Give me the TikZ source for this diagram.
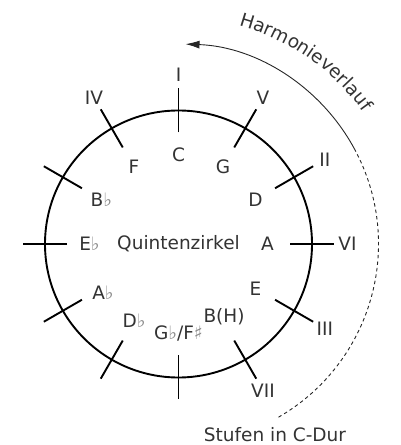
\documentclass[tikz,border=0pt]{standalone}
\usepackage{fontspec}
\setmainfont{DejaVu Sans}
\usetikzlibrary{arrows.meta,decorations.text,calc}
\newcommand{\fl}{{\color{black!45}♭}}
\newcommand{\sh}{{\color{black!45}♯}}
\begin{document}
\begin{tikzpicture}[x=1pt,y=1pt,
  lbl/.style={font=\fontsize{18.5}{20}\selectfont, text=black!80, inner sep=0pt},
  tickline/.style={line width=1.9pt, black},
  ring/.style={line width=1.9pt, black},
  harm/.style={line width=0.9pt, black!85}]
\useasboundingbox (0,0) rectangle (400,445);
\coordinate (O) at (178.5,201);
\draw[ring] (O) circle[radius=133.5];
% ticks
\foreach \a in {0,30,...,330}{
  \coordinate (ti\a) at ($(O)+(\a:111.5)$);
  \coordinate (to\a) at ($(O)+(\a:155.5)$);
  \draw[tickline] (ti\a) -- (to\a);
}
% note names
\node[lbl] (nC) at ($(O)+(90:89)$) {C};
\node[lbl] (nG) at ($(O)+(60:89)$) {G};
\node[lbl] (nD) at ($(O)+(30:89)$) {D};
\node[lbl] (nA) at ($(O)+(0:89)$) {A};
\node[lbl] (nE) at ($(O)+(-30:89)$) {E};
\node[lbl] (nB) at ($(O)+(-58:86)$) {B(H)};
\node[lbl] (nGb) at ($(O)+(-90:89)$) {G\fl/F\sh};
\node[lbl] (nDb) at ($(O)+(-120:89)$) {D\fl};
\node[lbl] (nAb) at ($(O)+(-147:90)$) {A\fl};
\node[lbl] (nEb) at ($(O)+(180:89)$) {E\fl};
\node[lbl] (nBb) at ($(O)+(150:89)$) {B\fl};
\node[lbl] (nF) at ($(O)+(120:89)$) {F};
\node[lbl] (qz) at (O) {Quintenzirkel};
% roman numerals
\node[lbl] (rI) at ($(O)+(90:169)$) {I};
\node[lbl] (rV) at ($(O)+(60:169)$) {V};
\node[lbl] (rII) at ($(O)+(30:169)$) {II};
\node[lbl] (rVI) at ($(O)+(0:169)$) {VI};
\node[lbl] (rIII) at ($(O)+(-30:169)$) {III};
\node[lbl] (rVII) at ($(O)+(-60:169)$) {VII};
\node[lbl] (rIV) at ($(O)+(120:169)$) {IV};
% harmony arc
\coordinate (hs) at ($(O)+(28:200)$);
\coordinate (hd) at ($(O)+(-60:200)$);
\draw[harm,-{Latex[length=14pt,width=8pt]}] (hs) arc[start angle=28, end angle=88, radius=200];
\draw[harm,dashed,dash pattern=on 3.5pt off 3pt] (hd) arc[start angle=-60, end angle=28, radius=200];
\coordinate (ht) at ($(O)+(80:227)$);
\path[decorate,decoration={text along path, text align=center,
  text={|\fontsize{18.5}{20}\selectfont\color{black!80}|Harmonieverlauf}}]
  (ht) arc[start angle=80, end angle=30, radius=227];
\node[lbl,anchor=base] (stufen) at (275,3) {Stufen in C-Dur};
\end{tikzpicture}
\end{document}
